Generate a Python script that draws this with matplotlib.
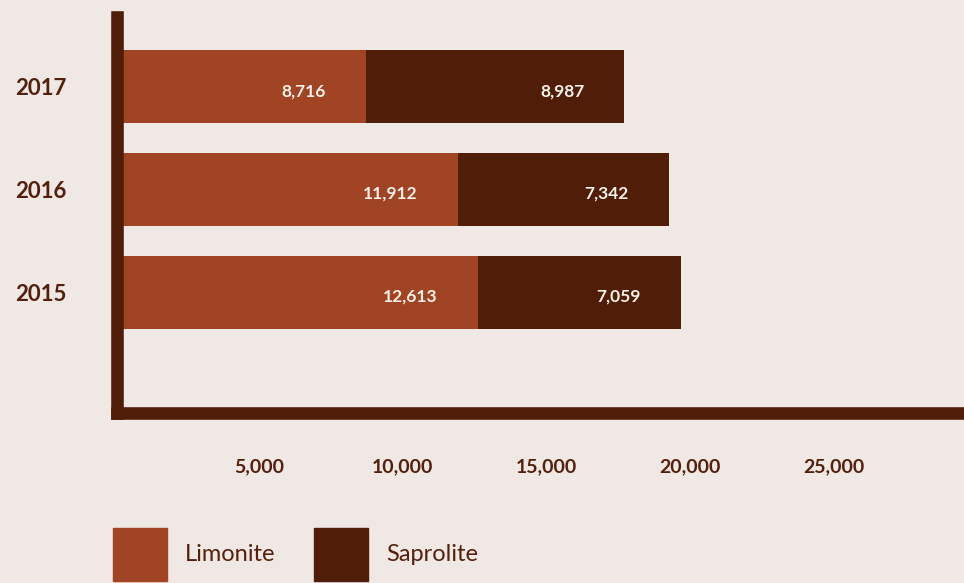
import matplotlib
matplotlib.use('Agg')
import matplotlib.pyplot as plt
from matplotlib.patches import Patch

# nickel ore output by type (wmt)
years = ['2015', '2016', '2017']
limonite = [12613, 11912, 8716]
saprolite = [7059, 7342, 8987]
ticks = [5000, 10000, 15000, 20000, 25000]

bg = '#F0E8E5'
c_lim = '#A04423'
c_sap = '#501E08'
c_text = '#52200C'

plt.rcParams['font.family'] = ['Lato', 'DejaVu Sans']

fig = plt.figure(figsize=(9.64, 5.83), dpi=100, facecolor=bg)
ax = fig.add_axes([117 / 964, (583 - 412.5) / 583, (964 - 117) / 964, 395.5 / 583])
ax.set_facecolor(bg)

pos = list(range(len(years)))
ax.barh(pos, limonite, height=0.711, color=c_lim, zorder=2)
ax.barh(pos, saprolite, left=limonite, height=0.711, color=c_sap, zorder=2)

# value labels sit just inside the right end of each segment
for i in pos:
    ends = [limonite[i], limonite[i] + saprolite[i]]
    vals = [limonite[i], saprolite[i]]
    for end, v in zip(ends, vals):
        ax.annotate(f'{v:,}', xy=(end, i), xytext=(-28.8, -3),
                    textcoords='offset points', ha='right', va='center',
                    color='#F7F1EC', fontsize=12.5, fontweight='bold', zorder=4)

ax.set_xlim(45, 29536)
ax.set_ylim(-1.172, 2.681)

for s in ['top', 'right']:
    ax.spines[s].set_visible(False)
for s in ['left', 'bottom']:
    ax.spines[s].set_linewidth(9.07)
    ax.spines[s].set_color(c_sap)
    ax.spines[s].set_capstyle('projecting')
    ax.spines[s].set_zorder(3)

ax.set_xticks(ticks)
ax.set_xticklabels([f'{t:,}' for t in ticks], fontsize=14, fontweight='bold', color=c_text)
ax.set_yticks(pos)
ax.set_yticklabels(years, fontsize=16, fontweight='bold', color=c_text)
ax.tick_params(axis='x', length=0, pad=33)
ax.tick_params(axis='y', length=0, pad=36.7)

handles = [Patch(color=c_lim, label='Limonite'), Patch(color=c_sap, label='Saprolite')]
fig.legend(handles=handles, loc='lower left', bbox_to_anchor=(113 / 964, 2 / 583),
           ncol=2, frameon=False, fontsize=17, handlelength=2.3, handleheight=3.08,
           handletextpad=0.76, columnspacing=1.6, borderpad=0, borderaxespad=0,
           labelcolor=c_text)

fig.savefig('out.png', dpi=100, facecolor=bg)
